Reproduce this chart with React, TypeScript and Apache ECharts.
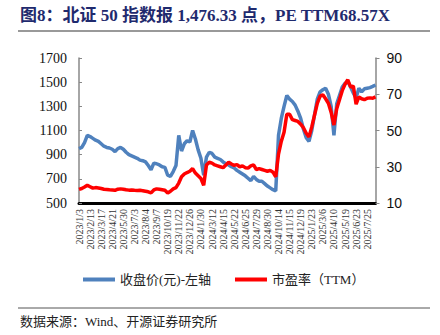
import React, { useEffect, useRef } from "react";
import * as echarts from "echarts";

const tickDates = [
  "2023/1/3", "2023/2/13", "2023/3/17", "2023/4/21", "2023/5/30", "2023/7/3", "2023/8/4",
  "2023/9/7", "2023/10/19", "2023/11/22", "2023/12/26", "2024/1/30", "2024/3/12", "2024/4/15",
  "2024/5/22", "2024/6/25", "2024/7/29", "2024/8/30", "2024/10/14", "2024/11/15", "2024/12/19",
  "2025/1/23", "2025/3/6", "2025/4/10", "2025/5/19", "2025/6/23", "2025/7/25",
];
const pointsPerTick = 4;

const closePrice = [
  950, 960, 1000, 1060, 1050, 1035, 1020, 1010, 990, 970,
  960, 955, 945, 925, 950, 960, 945, 920, 900, 890,
  880, 870, 855, 850, 840, 810, 775, 830, 825, 815,
  800, 795, 730, 720, 760, 810, 1060, 930, 990, 1015,
  1005, 1100, 1030, 940, 870, 730, 880, 920, 910, 880,
  870, 860, 840, 825, 815, 800, 790, 770, 755, 740,
  725, 705, 685, 720, 695, 680, 680, 660, 640, 625,
  610, 600, 1060, 1200, 1300, 1390, 1360, 1340, 1310, 1260,
  1200, 1110, 1040, 1010, 1100, 1230, 1360, 1420, 1437, 1450,
  1400, 1300, 1060, 1320, 1390, 1460, 1490, 1505, 1460, 1410,
  1370, 1450, 1420, 1445, 1450, 1455, 1465, 1476.33,
];

const peTTM = [
  17.5, 18.0, 18.8, 19.8, 19.0, 18.2, 18.5, 18.3, 18.0, 17.6,
  17.5, 17.3, 17.2, 17.0, 17.6, 17.8, 17.6, 17.3, 17.1, 17.2,
  17.0, 16.9, 17.0, 16.8, 16.5, 16.2, 15.6, 17.2, 17.8, 17.6,
  17.3, 17.0, 15.5, 16.5, 17.8, 18.5, 21.0, 24.5, 26.0, 26.8,
  27.5, 29.0, 26.5, 25.0, 23.5, 19.8, 31.0, 32.5, 32.0, 31.0,
  30.5, 30.0, 29.5, 31.0, 32.5, 31.5, 30.8, 31.2, 30.0, 30.5,
  29.5, 29.3, 30.5, 31.0, 28.5, 29.0, 28.5, 28.0, 27.5, 28.0,
  27.0, 24.5, 37.0, 44.0, 49.0, 59.0, 59.0, 56.0, 55.5, 55.0,
  53.5, 51.5, 48.5, 46.5, 52.0, 58.5, 65.0, 69.0, 69.7, 67.5,
  65.0, 60.0, 53.0, 62.0, 67.0, 72.0, 75.5, 78.0, 74.0, 74.5,
  64.5, 68.5, 67.5, 67.0, 67.8, 68.0, 67.8, 68.57,
];

const seriesNames = ["收盘价(元)-左轴", "市盈率（TTM）"];
const titleText = "图8：北证 50 指数报 1,476.33 点，PE TTM68.57X";
const sourceText = "数据来源：Wind、开源证券研究所";

const categories = closePrice.map((_, i) =>
  i % pointsPerTick === 0 && tickDates[i / pointsPerTick] ? tickDates[i / pointsPerTick] : ""
);

const SERIF = "'Liberation Serif', 'Noto Sans CJK SC', serif";
const SANS = "'Liberation Sans', 'Noto Sans', sans-serif";

export default function App() {
  const ref = useRef<HTMLDivElement>(null);
  useEffect(() => {
    if (!ref.current) return;
    const chart = echarts.init(ref.current, null, { renderer: "svg" });
    chart.setOption({
      animation: false,
      backgroundColor: "#ffffff",
      graphic: [
        {
          type: "text",
          left: 20,
          top: 7,
          style: {
            text: titleText,
            fill: "#1F2A6E",
            font: `bold 17px ${SERIF}`,
          },
        },
        {
          type: "line",
          shape: { x1: 18, y1: 31, x2: 430, y2: 31 },
          style: { stroke: "#999999", lineWidth: 2 },
        },
        {
          type: "line",
          shape: { x1: 18, y1: 308, x2: 430, y2: 308 },
          style: { stroke: "#555555", lineWidth: 1 },
        },
        {
          type: "text",
          left: 20,
          top: 315,
          style: {
            text: sourceText,
            fill: "#222222",
            font: `13px ${SERIF}`,
          },
        },
      ],
      legend: {
        left: 78,
        top: 268,
        itemWidth: 32,
        itemHeight: 4,
        itemGap: 24,
        icon: "rect",
        textStyle: { fontFamily: SERIF, fontSize: 13, color: "#222" },
        data: seriesNames,
      },
      grid: { left: 79, right: 64.5, top: 58, bottom: 132 },
      xAxis: {
        type: "category",
        data: categories,
        boundaryGap: false,
        axisLine: { lineStyle: { color: "#000", width: 3 } },
        axisTick: { show: false },
        axisLabel: {
          interval: pointsPerTick - 1,
          rotate: 90,
          fontFamily: SERIF,
          fontSize: 10,
          color: "#333",
          margin: 6,
        },
      },
      yAxis: [
        {
          type: "value",
          min: 500,
          max: 1700,
          interval: 200,
          position: "left",
          axisLine: { show: true, lineStyle: { color: "#888", width: 1.5 } },
          axisTick: { show: true, inside: true, length: 3, lineStyle: { color: "#888" } },
          splitLine: { show: false },
          axisLabel: {
            fontFamily: SERIF,
            fontSize: 14,
            color: "#111",
            margin: 12,
            formatter: (v: number) => String(v),
          },
        },
        {
          type: "value",
          min: 10,
          max: 90,
          interval: 20,
          position: "right",
          axisLine: { show: true, lineStyle: { color: "#888", width: 1.5 } },
          axisTick: { show: true, length: 4, lineStyle: { color: "#888" } },
          splitLine: { show: false },
          axisLabel: { fontFamily: SANS, fontSize: 14, color: "#111", margin: 11 },
        },
      ],
      series: [
        {
          name: seriesNames[0],
          type: "line",
          yAxisIndex: 0,
          data: closePrice,
          showSymbol: false,
          symbol: "none",
          lineStyle: { color: "#4F81BD", width: 3.5 },
          itemStyle: { color: "#4F81BD" },
        },
        {
          name: seriesNames[1],
          type: "line",
          yAxisIndex: 1,
          data: peTTM,
          showSymbol: false,
          symbol: "none",
          lineStyle: { color: "#FF0000", width: 3.5 },
          itemStyle: { color: "#FF0000" },
        },
      ],
    });
    return () => chart.dispose();
  }, []);
  return <div ref={ref} style={{ width: 440, height: 335, position: "absolute", left: 0, top: 0 }} />;
}
